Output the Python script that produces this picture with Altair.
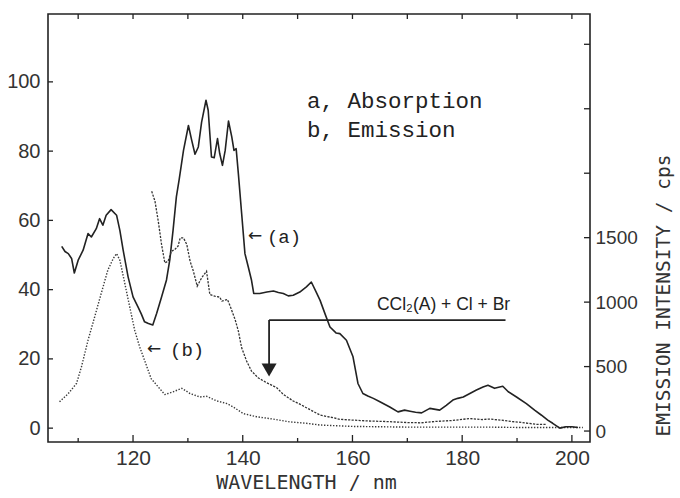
import altair as alt
import pandas as pd

# ---------------- data ----------------
# (a) Absorption (left axis)
abs_wl = [107.0, 107.6, 108.2, 108.8, 109.3, 110.0, 110.9, 111.8, 112.4, 113.3,
          113.9, 114.5, 115.1, 116.0, 117.0, 117.6, 118.2, 119.1, 120.0, 120.9,
          121.5, 122.1, 122.8, 123.6, 124.3, 125.2, 126.1, 126.7, 127.3, 127.9,
          128.4, 129.2, 130.1, 130.7, 131.3, 131.9, 132.5, 133.3, 133.7, 134.3,
          134.8, 135.4, 135.8, 136.3, 136.8, 137.4, 138.0, 138.4, 138.8, 139.2,
          139.8, 140.4, 141.0, 141.6, 142.0, 143.1, 144.4, 145.6, 146.5, 147.4,
          148.3, 149.2, 150.4, 151.6, 152.5, 153.5, 154.1, 155.0, 155.9, 157.0,
          157.7, 158.9, 160.1, 161.0, 161.9, 162.8, 163.8, 165.0, 165.6, 166.8,
          168.3, 169.5, 170.5, 171.5, 172.6, 174.1, 175.9, 177.1, 178.3, 179.2,
          180.2, 181.4, 182.6, 183.8, 184.7, 185.9, 187.4, 188.4, 189.9, 191.7,
          193.2, 194.4, 195.6, 196.5, 197.8, 198.9, 200.0, 201.1]
abs_val = [52.5, 51.0, 50.4, 49.0, 44.8, 48.5, 51.4, 56.2, 55.2, 57.6,
           60.5, 58.6, 61.5, 63.1, 61.5, 57.1, 51.4, 43.7, 37.9, 35.0,
           33.0, 30.7, 30.2, 29.8, 33.1, 37.9, 42.8, 48.6, 57.2, 66.8,
           71.7, 80.2, 87.4, 83.1, 79.1, 81.2, 88.4, 94.7, 91.8, 78.3,
           78.1, 83.6, 79.3, 75.9, 80.2, 88.7, 84.1, 80.2, 80.7, 73.5,
           62.0, 50.4, 46.6, 42.7, 38.9, 38.9, 39.3, 39.6, 39.2, 38.9,
           38.2, 38.4, 39.3, 40.8, 42.2, 38.9, 36.9, 33.0, 29.2, 27.5,
           27.3, 25.4, 20.6, 12.9, 10.0, 9.3, 8.6, 7.6, 7.1, 6.1,
           4.7, 5.2, 4.9, 4.6, 4.4, 5.7, 5.2, 6.6, 8.1, 8.6,
           9.0, 10.0, 11.0, 11.9, 12.4, 11.5, 12.1, 10.5, 9.0, 7.1,
           5.2, 3.8, 2.3, 1.4, 0.0, 0.4, 0.4, 0.2]

# (b) Emission, dotted curve (left axis)
emb_wl = [106.6, 108.2, 109.7, 110.6, 111.8, 113.0, 114.2, 115.4, 116.4, 117.0,
          117.6, 118.5, 119.4, 120.3, 121.2, 122.1, 123.3, 124.6, 125.8, 127.3,
          128.9, 130.4, 132.2, 133.4, 135.2, 137.1, 138.3, 140.1, 142.5, 145.6,
          148.6, 151.6, 154.1, 157.0, 160.0, 165.0, 170.0, 175.0, 180.0, 185.0,
          190.0, 195.0, 199.0, 202.0]
emb_val = [7.6, 10.0, 12.9, 17.7, 25.4, 32.1, 38.9, 45.6, 49.0, 50.4,
           48.5, 41.8, 35.0, 28.3, 23.5, 19.6, 14.3, 11.9, 9.7, 10.5,
           11.5, 10.0, 9.0, 9.2, 7.9, 7.1, 6.1, 4.2, 3.3, 2.6,
           1.8, 1.4, 0.9, 0.7, 0.5, 0.4, 0.3, 0.3, 0.3, 0.3,
           0.2, 0.2, 0.2, 0.2]

# Emission intensity, dashed curve (right axis, cps)
emi_wl = [123.4, 124.0, 124.6, 125.2, 125.8, 126.4, 127.0, 127.6, 128.2, 128.6,
          129.2, 129.8, 130.4, 131.0, 131.7, 132.5, 133.4, 134.0, 134.9, 135.8,
          136.2, 137.2, 137.7, 138.6, 139.2, 139.8, 140.7, 141.6, 142.8, 144.4,
          145.6, 146.2, 147.4, 149.2, 150.4, 151.6, 154.1, 156.5, 157.7, 160.0,
          163.0, 166.0, 170.0, 172.5, 175.0, 178.0, 181.4, 183.6, 185.0, 187.0,
          189.0, 191.0, 193.5, 195.3]
emi_cps = [1860, 1783, 1628, 1447, 1304, 1318, 1395, 1408, 1434, 1498,
           1498, 1447, 1318, 1240, 1124, 1188, 1240, 1059, 1046, 1039,
           1008, 1021, 969, 866, 775, 646, 543, 465, 413, 374,
           349, 336, 284, 233, 209, 181, 124, 103, 91, 85,
           78, 74, 66, 64, 74, 81, 97, 89, 93, 85,
           74, 66, 52, 52]

# axis tick values
x_major = [120, 140, 160, 180, 200]
x_minor = [110, 130, 150, 170, 190]
x_top = [110, 120, 130, 140, 150, 160, 170, 180, 190, 200]
left_ticks = [0, 20, 40, 60, 80, 100]
right_ticks = [0, 500, 1000, 1500, 2000, 2500, 3000]
right_labels = [0, 500, 1000, 1500]

# threshold marker for CCl2(A) + Cl + Br
thr_wl = [144.8]
thr_end_wl = [187.9]
thr_level = [31.2]
thr_stem_end = [18.5]
thr_tip = [16.8]

# ---------------- layout / styles ----------------
W, H = 542, 428
INK = "#222222"
LABEL_FONT = "Liberation Sans"
TITLE_FONT = "DejaVu Sans Mono"
TYPE_FONT = "Liberation Mono"

XS = alt.Scale(domain=[104.5, 203.3], nice=False, zero=False)
YL = alt.Scale(domain=[-4, 119.6], nice=False, zero=False)
YR = alt.Scale(domain=[-85, 3235], nice=False, zero=False)

x_axis = alt.Axis(values=x_major, format="d", orient="bottom", ticks=False, tickSize=0,
                  domain=False, grid=False, labelFont=LABEL_FONT, labelFontSize=21,
                  labelColor="#333", labelPadding=5,
                  title="WAVELENGTH / nm", titleFont=TITLE_FONT, titleFontSize=20,
                  titleFontWeight="normal", titleColor="#333", titleX=258, titleY=40,
                  titleAlign="center", titleBaseline="middle")
yl_axis = alt.Axis(values=left_ticks, format="d", orient="left", ticks=False, tickSize=0,
                   domain=False, grid=False, labelFont=LABEL_FONT, labelFontSize=20,
                   labelColor="#333", labelPadding=8, title="")
yr_axis = alt.Axis(values=right_labels, format="d", orient="right", ticks=False, tickSize=0,
                   domain=False, grid=False, labelFont=LABEL_FONT, labelFontSize=19,
                   labelColor="#333", labelPadding=5, labelAlign="left",
                   title="EMISSION INTENSITY / cps", titleFont=TITLE_FONT, titleFontSize=19.5,
                   titleFontWeight="normal", titleColor="#333", titleAngle=270,
                   titleX=73, titleY=281, titleAlign="center", titleBaseline="middle")


def X():
    return alt.X("wl:Q", scale=XS, axis=x_axis)


def YLf():
    return alt.Y("v:Q", scale=YL, axis=yl_axis)


def YRf():
    return alt.Y("cps:Q", scale=YR, axis=yr_axis)


df_abs = pd.DataFrame({"wl": abs_wl, "v": abs_val})
df_emb = pd.DataFrame({"wl": emb_wl, "v": emb_val})
df_emi = pd.DataFrame({"wl": emi_wl, "cps": emi_cps})

line_a = alt.Chart(df_abs).mark_line(color=INK, strokeWidth=1.6, strokeJoin="round").encode(
    x=X(), y=YLf())
line_b = alt.Chart(df_emb).mark_line(color="#3a3a3a", strokeWidth=1.4, strokeDash=[1.4, 1.6]).encode(
    x=X(), y=YLf())

# threshold bracket
df_thr_h = pd.DataFrame({"wl": thr_wl, "wl2": thr_end_wl, "v": thr_level})
thr_h = alt.Chart(df_thr_h).mark_rule(color=INK, strokeWidth=1.6).encode(
    x=X(), x2="wl2:Q", y=YLf())
df_thr_v = pd.DataFrame({"wl": thr_wl, "v": thr_level, "v2": thr_stem_end})
thr_v = alt.Chart(df_thr_v).mark_rule(color=INK, strokeWidth=1.8).encode(
    x=X(), y=YLf(), y2="v2:Q")
df_tip = pd.DataFrame({"wl": thr_wl, "v": thr_tip})
thr_head = alt.Chart(df_tip).mark_point(shape="triangle-down", filled=True, color=INK,
                                        size=225, opacity=1).encode(x=X(), y=YLf())


# annotations
def note(text, wl, v, font, size, align="left"):
    d = pd.DataFrame({"wl": [wl], "v": [v], "t": [text]})
    return alt.Chart(d).mark_text(font=font, fontSize=size, align=align, baseline="middle",
                                  color=INK).encode(x=X(), y=YLf(), text="t:N")


notes = [
    note("a, Absorption", 151.7, 94.5, TYPE_FONT, 22.5),
    note("b, Emission", 151.7, 86.1, TYPE_FONT, 22.5),
    note("\u2190", 140.95, 55.6, "DejaVu Sans", 17),
    note("(a)", 144.4, 55.2, TYPE_FONT, 19),
    note("\u2190", 122.55, 22.9, "DejaVu Sans", 17),
    note("(b)", 126.74, 22.5, TYPE_FONT, 19),
    note("CCl\u2082(A) + Cl + Br", 176.6, 35.6, LABEL_FONT, 17.5, align="center"),
]

# inward tick marks
tick_major = alt.Chart(pd.DataFrame({"wl": x_major})).mark_rule(color=INK, strokeWidth=1.3).encode(
    x=X(), y=alt.value(H), y2=alt.value(H - 7))
tick_minor = alt.Chart(pd.DataFrame({"wl": x_minor})).mark_rule(color=INK, strokeWidth=1.3).encode(
    x=X(), y=alt.value(H), y2=alt.value(H - 4))
tick_top = alt.Chart(pd.DataFrame({"wl": x_top})).mark_rule(color=INK, strokeWidth=1.3).encode(
    x=X(), y=alt.value(0), y2=alt.value(5))
tick_left = alt.Chart(pd.DataFrame({"v": left_ticks})).mark_rule(color=INK, strokeWidth=1.3).encode(
    y=YLf(), x=alt.value(0), x2=alt.value(5))

left = alt.layer(line_b, line_a, thr_h, thr_v, thr_head, *notes,
                 tick_major, tick_minor, tick_top, tick_left)

line_e = alt.Chart(df_emi).mark_line(color="#333333", strokeWidth=1.3, strokeDash=[2.2, 1.3]).encode(
    x=X(), y=YRf())
tick_right = alt.Chart(pd.DataFrame({"cps": right_ticks})).mark_rule(color=INK, strokeWidth=1.3).encode(
    y=YRf(), x=alt.value(W - 6), x2=alt.value(W))

right = alt.layer(line_e, tick_right)

chart = alt.layer(left, right).resolve_scale(y="independent").properties(
    width=W, height=H,
    autosize=alt.AutoSizeParams(type="none"),
    padding={"left": 48, "top": 14, "right": 90, "bottom": 56},
    background="white",
).configure_view(stroke=INK, strokeWidth=1.6)

chart.save("out.html", embed_options={"renderer": "svg", "actions": False})
